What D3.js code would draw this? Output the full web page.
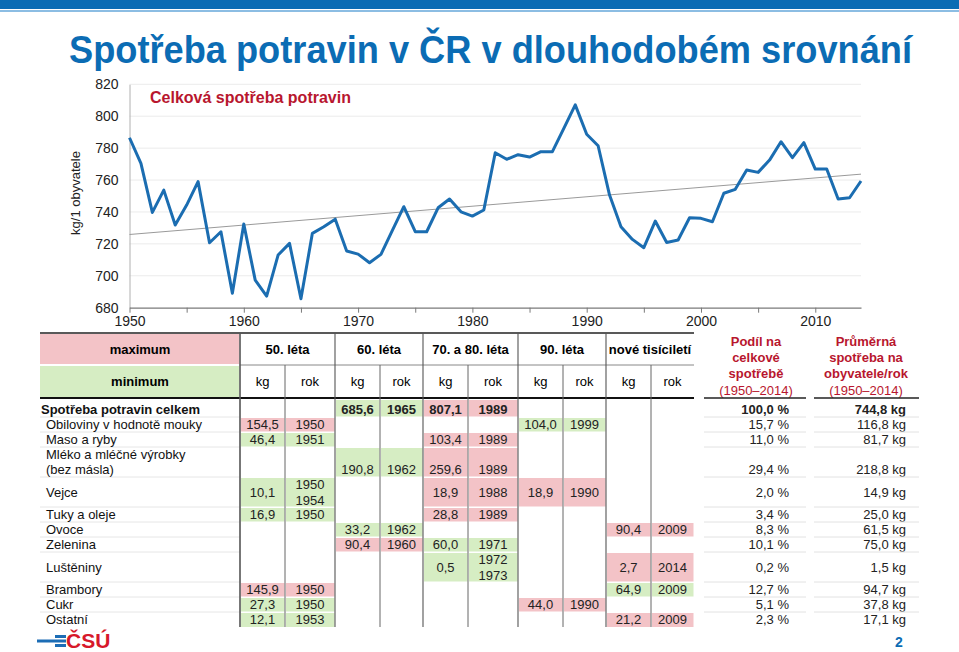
<!DOCTYPE html>
<html><head><meta charset="utf-8">
<script src="https://cdn.jsdelivr.net/npm/d3@7"></script>
<style>
body{margin:0;background:#fff}
svg{display:block}
text{font-family:"Liberation Sans",Arial,Helvetica,sans-serif}
</style>
</head><body>
<svg id="c" width="959" height="652"></svg>
<script>
// ---------- DATA ----------
const years = [1950,1951,1952,1953,1954,1955,1956,1957,1958,1959,
  1960,1961,1962,1963,1964,1965,1966,1967,1968,1969,
  1970,1971,1972,1973,1974,1975,1976,1977,1978,1979,
  1980,1981,1982,1983,1984,1985,1986,1987,1988,1989,
  1990,1991,1992,1993,1994,1995,1996,1997,1998,1999,
  2000,2001,2002,2003,2004,2005,2006,2007,2008,2009,
  2010,2011,2012,2013,2014];
const consumption = [786.5,770.5,739.7,753.7,731.8,744.3,759.0,720.7,727.6,689.0,
  732.4,697.3,687.3,713.0,720.3,685.6,726.6,730.7,735.5,715.5,
  713.6,708.2,713.4,728.5,743.3,727.6,727.6,742.6,748.1,740.1,
  737.4,741.2,777.1,773.0,775.9,774.4,777.8,777.8,792.4,807.1,
  788.7,781.5,750.6,730.7,722.8,717.6,734.3,720.9,722.4,736.4,
  736.0,733.9,751.7,754.2,766.3,764.8,772.5,784.0,774.0,783.4,
  766.9,766.9,748.1,748.9,759.4];
const yTicks = [680,700,720,740,760,780,800,820];
const xTicks = [1950,1955,1960,1965,1970,1975,1980,1985,1990,1995,2000,2005,2010];
const xLabelYears = [1950,1960,1970,1980,1990,2000,2010];

const periods = ["50. léta","60. léta","70. a 80. léta","90. léta","nové tisíciletí"];
const itemLines = [
  ["Spotřeba potravin celkem"],
  ["Obiloviny v hodnotě mouky"],
  ["Maso a ryby"],
  ["Mléko a mléčné výrobky","(bez másla)"],
  ["Vejce"],
  ["Tuky a oleje"],
  ["Ovoce"],
  ["Zelenina"],
  ["Luštěniny"],
  ["Brambory"],
  ["Cukr"],
  ["Ostatní"]
];
const rowSpans = [1,1,1,2,2,1,1,1,2,1,1,1];
// [row, period index, kg, years, type]
const extremes = [
  [0,1,"685,6",["1965"],"min"],[0,2,"807,1",["1989"],"max"],
  [1,0,"154,5",["1950"],"max"],[1,3,"104,0",["1999"],"min"],
  [2,0,"46,4",["1951"],"min"],[2,2,"103,4",["1989"],"max"],
  [3,1,"190,8",["1962"],"min"],[3,2,"259,6",["1989"],"max"],
  [4,0,"10,1",["1950","1954"],"min"],[4,2,"18,9",["1988"],"max"],[4,3,"18,9",["1990"],"max"],
  [5,0,"16,9",["1950"],"min"],[5,2,"28,8",["1989"],"max"],
  [6,1,"33,2",["1962"],"min"],[6,4,"90,4",["2009"],"max"],
  [7,1,"90,4",["1960"],"max"],[7,2,"60,0",["1971"],"min"],
  [8,2,"0,5",["1972","1973"],"min"],[8,4,"2,7",["2014"],"max"],
  [9,0,"145,9",["1950"],"max"],[9,4,"64,9",["2009"],"min"],
  [10,0,"27,3",["1950"],"min"],[10,3,"44,0",["1990"],"max"],
  [11,0,"12,1",["1953"],"min"],[11,4,"21,2",["2009"],"max"]
];
const shares = ["100,0 %","15,7 %","11,0 %","29,4 %","2,0 %","3,4 %","8,3 %","10,1 %","0,2 %","12,7 %","5,1 %","2,3 %"];
const averages = ["744,8 kg","116,8 kg","81,7 kg","218,8 kg","14,9 kg","25,0 kg","61,5 kg","75,0 kg","1,5 kg","94,7 kg","37,8 kg","17,1 kg"];

// ---------- STYLE ----------
const BLUE = "#0b6cb4", RED = "#b8162e", PINK = "#f3c3c7", GREEN = "#d6edc3", LINE = "#1b6db1";
const svg = d3.select("#c");

svg.append("rect").attr("x",0).attr("y",0).attr("width",959).attr("height",9).attr("fill",BLUE);
svg.append("rect").attr("x",0).attr("y",10).attr("width",959).attr("height",2).attr("fill","#8cbde3");

svg.append("text").attr("x",69).attr("y",63)
  .attr("textLength",843).attr("lengthAdjust","spacingAndGlyphs")
  .style("font-family",'"Liberation Sans Narrow","Arial Narrow","Liberation Sans",Arial,sans-serif')
  .style("font-weight","bold").style("font-size","38px").attr("fill",BLUE)
  .text("Spotřeba potravin v ČR v dlouhodobém srovnání");

// ---------- CHART ----------
const x = d3.scaleLinear().domain([1950,2014]).range([129.5,861]);
const y = d3.scaleLinear().domain([680,820]).range([307.7,84.3]);

svg.append("g").selectAll("line").data(yTicks.filter(t=>t>680)).join("line")
  .attr("x1",x(1950)).attr("x2",x(2014)).attr("y1",d=>y(d)).attr("y2",d=>y(d))
  .attr("stroke","#ebebeb").attr("stroke-width",1);

const gy = svg.append("g").attr("transform",`translate(${x(1950)},0)`)
  .call(d3.axisLeft(y).tickValues(yTicks).tickSize(0).tickPadding(11).tickFormat(d3.format("d")));
gy.select(".domain").attr("stroke","#b0b0b0");
gy.selectAll("text").style("font-size","14px").style("font-family",'"Liberation Sans",Arial,sans-serif').attr("fill","#222");

const gx = svg.append("g").attr("transform",`translate(0,${y(680)})`)
  .call(d3.axisBottom(x).tickValues(xTicks).tickSizeInner(5).tickSizeOuter(0).tickPadding(3)
    .tickFormat(d=>xLabelYears.includes(d)?String(d):""));
gx.select(".domain").attr("stroke","#7a7a7a").attr("stroke-width",1.2);
gx.selectAll(".tick line").attr("stroke","#7a7a7a");
gx.selectAll("text").style("font-size","14px").style("font-family",'"Liberation Sans",Arial,sans-serif').attr("fill","#222");

svg.append("text").attr("transform","translate(80,193) rotate(-90)").attr("text-anchor","middle")
  .style("font-size","13px").attr("fill","#222").text("kg/1 obyvatele");

// trend (least squares)
const mx = d3.mean(years), my = d3.mean(consumption);
const slope = d3.sum(years,(v,i)=>(v-mx)*(consumption[i]-my))/d3.sum(years,v=>(v-mx)*(v-mx));
const icpt = my - slope*mx;
svg.append("line").attr("x1",x(1950)).attr("x2",x(2014))
  .attr("y1",y(icpt+slope*1950)).attr("y2",y(icpt+slope*2014))
  .attr("stroke","#9a9a9a").attr("stroke-width",1);

svg.append("path").datum(years.map((v,i)=>[v,consumption[i]]))
  .attr("d",d3.line().x(d=>x(d[0])).y(d=>y(d[1])))
  .attr("fill","none").attr("stroke",LINE).attr("stroke-width",3).attr("stroke-linejoin","round");

svg.append("text").attr("x",150).attr("y",103).style("font-size","16px").style("font-weight","bold")
  .attr("fill",RED).text("Celková spotřeba potravin");

// ---------- TABLE ----------
const pStart = d3.scaleOrdinal().domain(periods.map((p,i)=>i)).range([240,335,423,518,606]);
const pEnd = d3.scaleOrdinal().domain(periods.map((p,i)=>i)).range([335,423,518,606,694]);
const KGW = 45;
const cum = [0]; rowSpans.forEach((s,i)=>cum.push(cum[i]+s));
const ry = d3.scaleLinear().domain([0,cum[cum.length-1]]).range([402,627]);
const rowTop = i => ry(cum[i]), rowBot = i => ry(cum[i+1]);
const valY = i => itemLines[i].length===2 ? rowBot(i)-7.5 : (rowTop(i)+rowBot(i))/2;

const T = svg.append("g");
T.append("rect").attr("x",40).attr("y",334).attr("width",199).attr("height",30).attr("fill",PINK);
T.append("rect").attr("x",40).attr("y",366).attr("width",199).attr("height",31).attr("fill",GREEN);
T.append("text").attr("x",140).attr("y",354).attr("text-anchor","middle").style("font-size","13px").style("font-weight","bold").text("maximum");
T.append("text").attr("x",140).attr("y",386).attr("text-anchor","middle").style("font-size","13px").style("font-weight","bold").text("minimum");
T.selectAll("text.ph").data(periods).join("text").attr("class","ph")
  .attr("x",(d,i)=>(pStart(i)+pEnd(i))/2).attr("y",354).attr("text-anchor","middle")
  .style("font-size","13px").style("font-weight","bold").text(d=>d);
periods.forEach((p,i)=>{
  T.append("text").attr("x",pStart(i)+KGW/2).attr("y",386).attr("text-anchor","middle").style("font-size","13px").text("kg");
  T.append("text").attr("x",(pStart(i)+KGW+pEnd(i))/2).attr("y",386).attr("text-anchor","middle").style("font-size","13px").text("rok");
});

const cells = T.append("g");
extremes.forEach(([r,p,kg,yrs,type])=>{
  const top = r===0 ? 400 : rowTop(r)+1, bot = rowBot(r);
  const fill = type==="max"?PINK:GREEN;
  const bold = r===0 ? "bold":"normal";
  cells.append("rect").attr("x",pStart(p)+1).attr("y",top).attr("width",KGW-1.5).attr("height",bot-top).attr("fill",fill);
  cells.append("rect").attr("x",pStart(p)+KGW+1).attr("y",top).attr("width",pEnd(p)-pStart(p)-KGW-1.5).attr("height",bot-top).attr("fill",fill);
  const vy = valY(r);
  cells.append("text").attr("x",pStart(p)+KGW/2).attr("y",vy+4.5).attr("text-anchor","middle")
    .style("font-size","13px").style("font-weight",bold).attr("fill","#222").text(kg);
  yrs.forEach((yr,k)=>{
    const yy = yrs.length===2 ? (rowTop(r)+rowBot(r))/2 + (k===0?-7.5:8) : vy;
    cells.append("text").attr("x",(pStart(p)+KGW+pEnd(p))/2).attr("y",yy+4.5).attr("text-anchor","middle")
      .style("font-size","13px").style("font-weight",bold).attr("fill","#222").text(yr);
  });
});

T.selectAll("line.rs").data(rowSpans.slice(0,-1)).join("line").attr("class","rs")
  .attr("x1",40).attr("x2",694).attr("y1",(d,i)=>rowBot(i)).attr("y2",(d,i)=>rowBot(i))
  .attr("stroke","#ffffff").attr("stroke-width",1);
T.selectAll("line.rs2").data(rowSpans.slice(0,-1)).join("line").attr("class","rs2")
  .attr("x1",40).attr("x2",240).attr("y1",(d,i)=>rowBot(i)).attr("y2",(d,i)=>rowBot(i))
  .attr("stroke","#e6e6e6").attr("stroke-width",1);

itemLines.forEach((lines,i)=>{
  lines.forEach((t,k)=>{
    const yy = lines.length===2 ? rowTop(i)+7.5+k*15 : (rowTop(i)+rowBot(i))/2;
    T.append("text").attr("x",i===0?41:46).attr("y",yy+4.5)
      .style("font-size","13px").style("font-weight",i===0?"bold":"normal").attr("fill","#111").text(t);
  });
});

T.append("line").attr("x1",40).attr("x2",694).attr("y1",333).attr("y2",333).attr("stroke","#222").attr("stroke-width",1.3);
T.append("line").attr("x1",240).attr("x2",694).attr("y1",365).attr("y2",365).attr("stroke","#888").attr("stroke-width",1);
T.append("line").attr("x1",40).attr("x2",694).attr("y1",398).attr("y2",398).attr("stroke","#111").attr("stroke-width",2);
periods.forEach((p,i)=>{
  T.append("line").attr("x1",pStart(i)).attr("x2",pStart(i)).attr("y1",333).attr("y2",627).attr("stroke","#555").attr("stroke-width",i===0?1.6:1.1);
  T.append("line").attr("x1",pStart(i)+KGW).attr("x2",pStart(i)+KGW).attr("y1",365).attr("y2",627).attr("stroke","#666").attr("stroke-width",1);
});

const RC = [{cx:756, right:789, x1:704, x2:806, head:["Podíl na","celkové","spotřebě"], vals:shares},
            {cx:866, right:906, x1:814, x2:919, head:["Průměrná","spotřeba na","obyvatele/rok"], vals:averages}];
RC.forEach(c=>{
  c.head.forEach((t,k)=>T.append("text").attr("x",c.cx).attr("y",346+k*16).attr("text-anchor","middle")
    .style("font-size","13px").style("font-weight","bold").attr("fill",RED).text(t));
  T.append("text").attr("x",c.cx).attr("y",395).attr("text-anchor","middle").style("font-size","13px").attr("fill",RED).text("(1950–2014)");
  T.append("line").attr("x1",c.x1).attr("x2",c.x2).attr("y1",398).attr("y2",398).attr("stroke","#222").attr("stroke-width",1.5);
  c.vals.forEach((v,i)=>{
    T.append("text").attr("x",c.right).attr("y",valY(i)+4.5).attr("text-anchor","end")
      .style("font-size","13px").style("font-weight",i===0?"bold":"normal").attr("fill","#222").text(v);
    if(i<c.vals.length-1) T.append("line").attr("x1",c.x1).attr("x2",c.x2).attr("y1",rowBot(i)).attr("y2",rowBot(i)).attr("stroke","#e2e2e2");
  });
});

const L = svg.append("g");
L.append("rect").attr("x",55).attr("y",635).attr("width",11).attr("height",3).attr("fill","#1c6db5");
L.append("rect").attr("x",37).attr("y",639.5).attr("width",29).attr("height",3).attr("fill","#1c6db5");
L.append("rect").attr("x",55).attr("y",644).attr("width",11).attr("height",3).attr("fill","#1c6db5");
L.append("text").attr("x",66).attr("y",648).style("font-size","21px").style("font-weight","bold").attr("fill","#d7182a").text("ČSÚ");

svg.append("text").attr("x",899).attr("y",647).attr("text-anchor","middle").style("font-size","14px")
  .style("font-weight","bold").attr("fill",BLUE).text("2");
</script>
</body></html>
